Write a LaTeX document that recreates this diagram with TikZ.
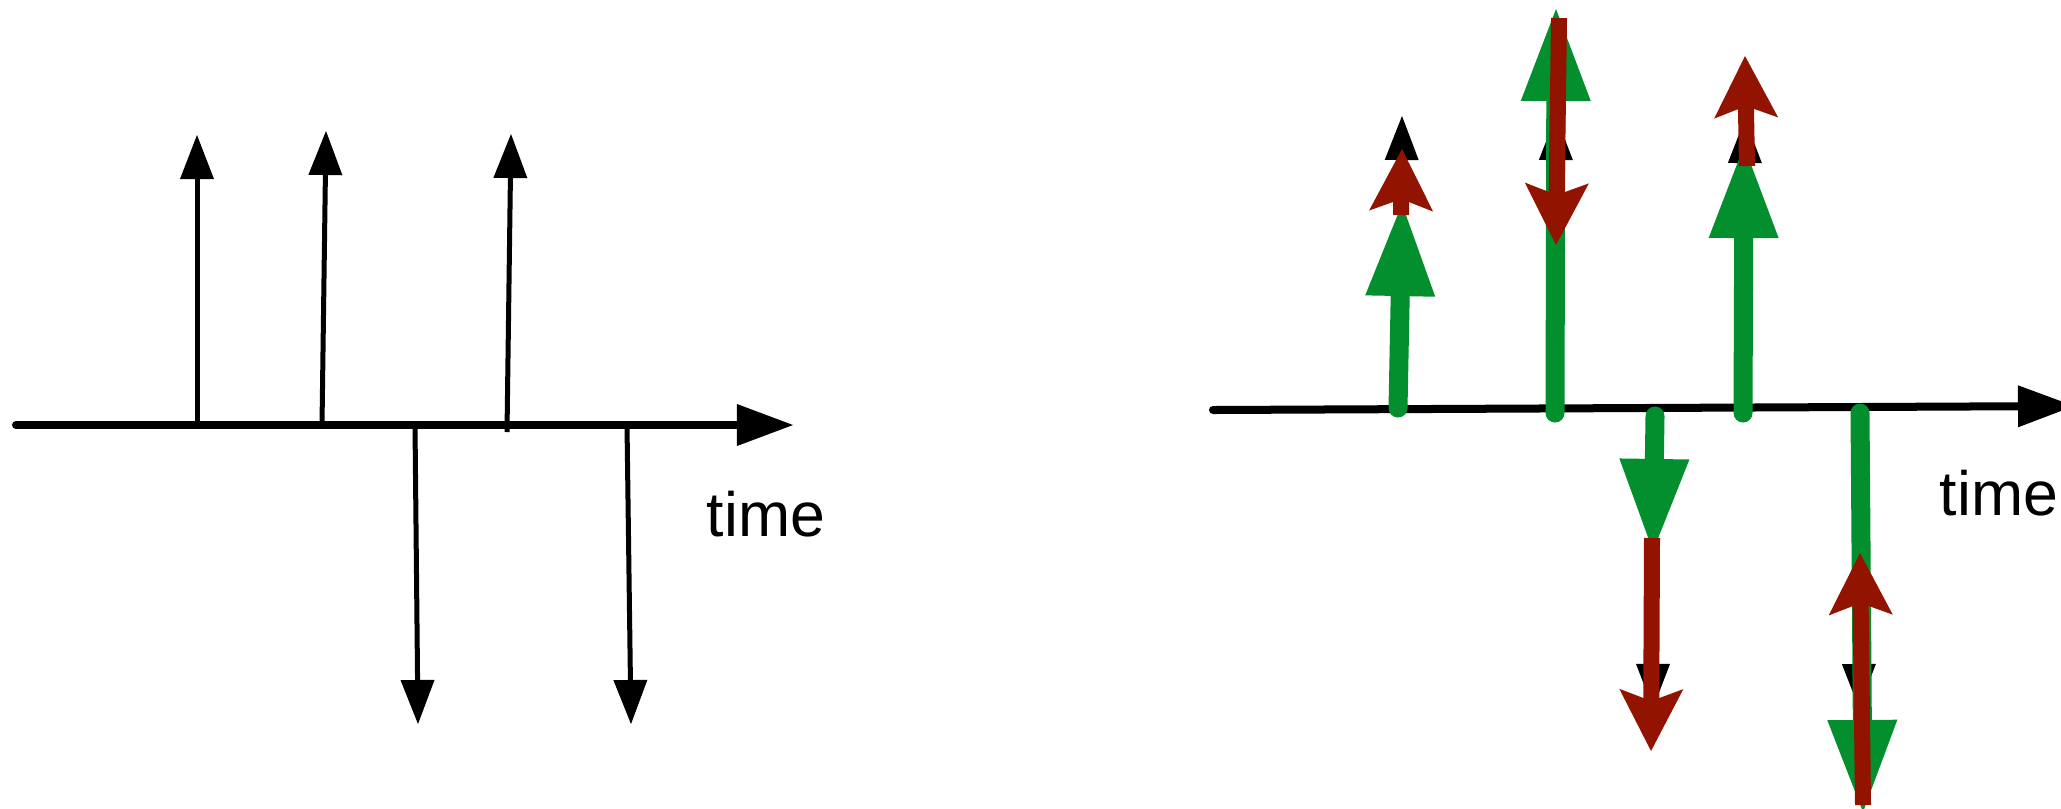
\documentclass[tikz,border=0pt]{standalone}
\usepackage{fontspec}
\setmainfont{Liberation Sans}
\usetikzlibrary{arrows.meta}
\definecolor{evgreen}{RGB}{3,143,45}
\definecolor{evred}{RGB}{146,20,0}
\begin{document}
\begin{tikzpicture}[x=0.01cm,y=-0.01cm,
  thinarrow/.style={line width=0.05cm,-{Triangle[length=0.44cm,width=0.34cm,line width=0pt]}},
  axisline/.style={line width=0.08cm,line cap=round,-{Triangle[length=0.56cm,width=0.42cm,line width=0pt]}},
  greenarrow/.style={evgreen,line width=0.19cm,line cap=round,-{Triangle[length=0.92cm,width=0.70cm,line width=0pt]}},
  redarrow/.style={evred,line width=0.16cm,-{Stealth[length=0.62cm,width=0.64cm,inset=0.12cm,line width=0pt]}},
  timelabel/.style={anchor=base west,inner sep=0pt,font=\fontsize{17.8}{21}\selectfont}]
\useasboundingbox (0,0) rectangle (2061,808);
% ---------- left panel ----------
\coordinate (La) at (16,425);   \coordinate (Lb) at (793,425);
\coordinate (u1a) at (197,425); \coordinate (u1b) at (197,135);
\coordinate (u2a) at (322,425); \coordinate (u2b) at (326,131);
\coordinate (u3a) at (507,432); \coordinate (u3b) at (511,134);
\coordinate (d1a) at (415,425); \coordinate (d1b) at (418,724);
\coordinate (d2a) at (627,425); \coordinate (d2b) at (631,724);
\draw[thinarrow] (u1a) -- (u1b);
\draw[thinarrow] (u2a) -- (u2b);
\draw[thinarrow] (u3a) -- (u3b);
\draw[thinarrow] (d1a) -- (d1b);
\draw[thinarrow] (d2a) -- (d2b);
\draw[axisline] (La) -- (Lb);
\node[timelabel] (tL) at (706,536) {time};
% ---------- right panel ----------
\coordinate (Ra) at (1213,410); \coordinate (Rb) at (2074,406);
% original black arrows (mostly hidden)
\coordinate (bAa) at (1400,410); \coordinate (bAb) at (1402,116);
\coordinate (bBa) at (1555,410); \coordinate (bBb) at (1556,116);
\coordinate (bCa) at (1744,410); \coordinate (bCb) at (1745,119);
\coordinate (bDa) at (1653,410); \coordinate (bDb) at (1653,708);
\coordinate (bEa) at (1858,410); \coordinate (bEb) at (1859,708);
\draw[thinarrow] (bAa) -- (bAb);
\draw[thinarrow] (bBa) -- (bBb);
\draw[thinarrow] (bCa) -- (bCb);
\draw[thinarrow] (bDa) -- (bDb);
\draw[thinarrow] (bEa) -- (bEb);
\draw[axisline] (Ra) -- (Rb);
% green arrows
\coordinate (gAa) at (1398,408); \coordinate (gAb) at (1402,204);
\coordinate (gBa) at (1555,413); \coordinate (gBb) at (1556,9);
\coordinate (gCa) at (1743,413); \coordinate (gCb) at (1744,146);
\coordinate (gDa) at (1655,416); \coordinate (gDb) at (1653,551);
\coordinate (gEa) at (1860,413); \coordinate (gEb) at (1863,812);
\draw[greenarrow] (gAa) -- (gAb);
\draw[greenarrow] (gBa) -- (gBb);
\draw[greenarrow] (gCa) -- (gCb);
\draw[greenarrow] (gDa) -- (gDb);
\draw[greenarrow] (gEa) -- (gEb);
% red arrows
\coordinate (rAa) at (1401,215); \coordinate (rAb) at (1402,149);
\coordinate (rBa) at (1559,18);  \coordinate (rBb) at (1556,245);
\coordinate (rCa) at (1747,166); \coordinate (rCb) at (1745,56);
\coordinate (rDa) at (1652,538); \coordinate (rDb) at (1651,751);
\coordinate (rEa) at (1863,805); \coordinate (rEb) at (1860,553);
\draw[redarrow] (rAa) -- (rAb);
\draw[redarrow] (rBa) -- (rBb);
\draw[redarrow] (rCa) -- (rCb);
\draw[redarrow] (rDa) -- (rDb);
\draw[redarrow] (rEa) -- (rEb);
\node[timelabel] (tR) at (1939,515) {time};
\end{tikzpicture}
\end{document}
